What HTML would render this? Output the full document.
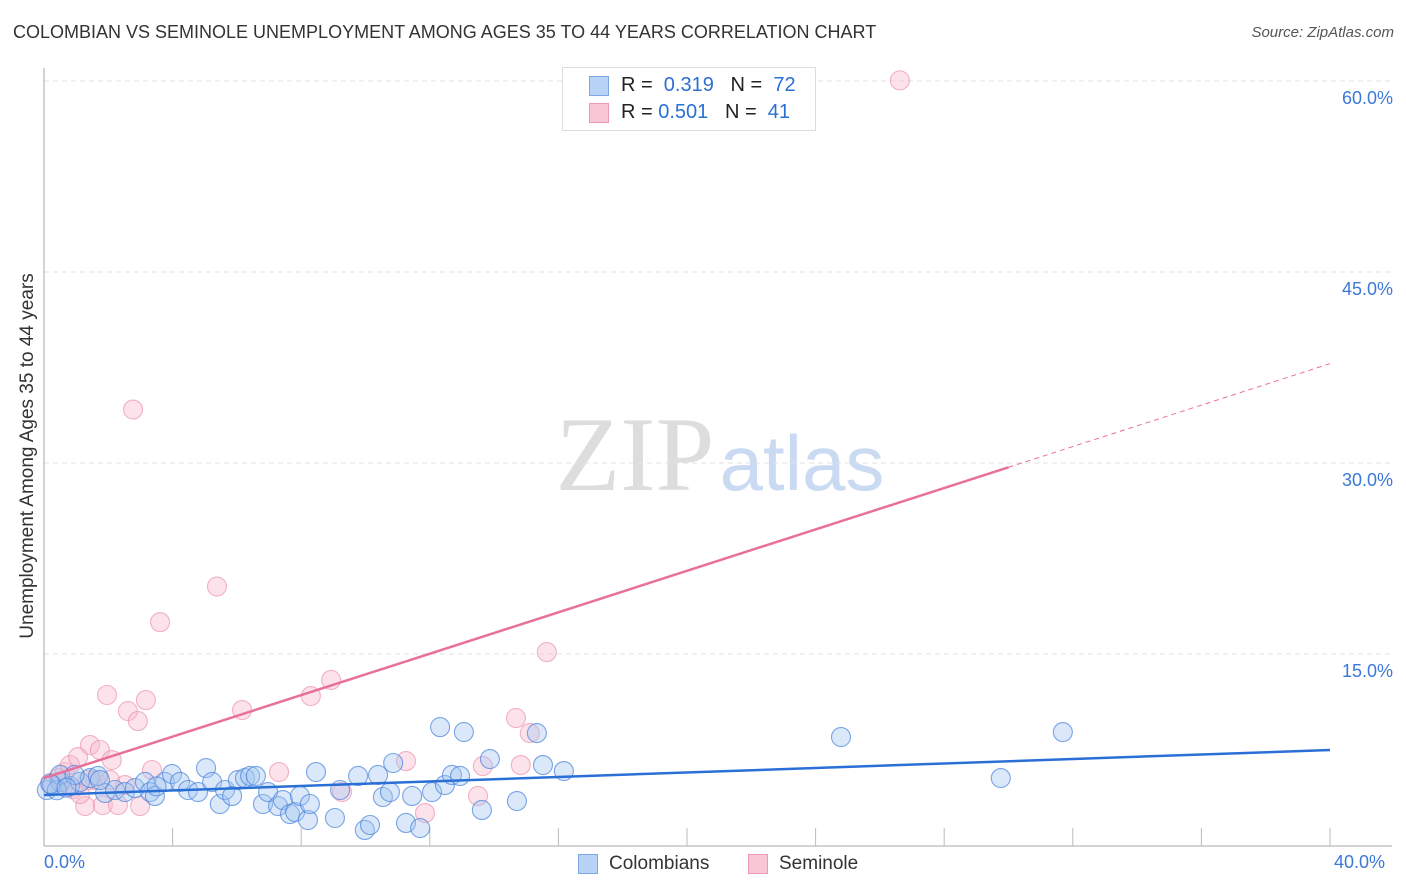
<!DOCTYPE html>
<html><head><meta charset="utf-8"><style>
body{margin:0;background:#fff;font-family:"Liberation Sans",sans-serif;}
#wrap{position:relative;width:1406px;height:892px;overflow:hidden;}
.t{position:absolute;white-space:nowrap;}
</style></head><body>
<div id="wrap">
<div class="t" style="left:13px;top:22px;font-size:18px;color:#333;">COLOMBIAN VS SEMINOLE UNEMPLOYMENT AMONG AGES 35 TO 44 YEARS CORRELATION CHART</div>
<div class="t" style="right:12px;top:24px;font-size:15px;color:#555;font-style:italic;">Source: ZipAtlas.com</div>
<svg id="svg" width="1406" height="892" style="position:absolute;left:0;top:0"></svg>
<div class="t" style="left:28px;top:456px;transform:translate(-50%,-50%) rotate(-90deg);transform-origin:center;font-size:19px;color:#333;">Unemployment Among Ages 35 to 44 years</div>
</div>
<script>
const NS="http://www.w3.org/2000/svg";
const blueX=[0.09,0.25,0.50,0.81,1.12,1.43,1.68,1.90,2.21,2.52,2.83,3.14,3.30,3.45,3.76,3.98,4.23,4.48,4.79,5.04,5.23,5.47,5.63,5.85,6.03,6.25,6.41,6.59,6.81,6.97,7.28,7.43,7.65,7.81,7.96,8.21,8.27,8.46,9.05,9.21,9.77,9.98,10.14,10.39,10.54,10.76,10.86,11.26,11.45,11.70,12.07,12.32,12.47,12.69,12.94,13.06,13.62,13.87,14.71,15.33,15.52,16.17,24.79,29.76,31.69,0.5,0.95,1.74,3.5,0.4,0.2,0.7];
const blueY=[4.32,4.71,4.95,4.63,4.95,5.26,5.42,4.08,4.32,4.16,4.47,4.95,4.16,3.85,4.95,5.57,4.95,4.32,4.16,6.04,4.95,3.22,4.32,3.85,5.10,5.26,5.42,5.42,3.22,4.16,3.06,3.53,2.43,2.59,3.85,1.96,3.22,5.73,2.12,4.32,5.42,1.18,1.57,5.50,3.77,4.16,6.44,1.73,3.85,1.33,4.16,9.26,4.71,5.50,5.42,8.87,2.75,6.75,3.45,8.79,6.28,5.81,8.48,5.26,8.87,5.5,5.5,5.1,4.6,4.3,4.8,4.5];
const pinkX=[0.19,0.44,0.65,0.81,1.06,1.28,1.43,1.59,1.74,1.83,1.96,2.11,2.30,2.52,2.61,2.92,2.77,2.99,3.17,3.36,3.61,5.38,6.16,7.31,8.30,8.93,9.27,11.26,11.85,13.50,13.65,14.68,14.83,15.11,15.64,26.62,0.9,1.37,0.56,1.12,2.05];
const pinkY=[4.87,5.26,5.73,6.28,6.91,3.06,7.85,5.10,7.46,3.14,11.78,6.67,3.14,4.71,10.52,9.73,34.2,3.06,11.38,5.89,17.5,20.3,10.6,5.73,11.7,12.96,4.16,6.59,2.51,3.85,6.20,9.97,6.28,8.79,15.15,60.05,4.4,5.1,4.9,4.0,5.1];
const blueTrend=[3.93,7.46];
const pinkTrend=[5.26,37.8];
const pinkSolidEnd=30.0;
const yTicks=[15,30,45,60];
const yTickLabels=["15.0%","30.0%","45.0%","60.0%"];
const xTickVals=[4,8,12,16,20,24,28,32,36,40];
const X=v=>44+v/40*1286;
const Y=v=>845-v/15*191;
const svg=document.getElementById('svg');
function mk(tag,attrs,parent){const e=document.createElementNS(NS,tag);for(const k in attrs)e.setAttribute(k,attrs[k]);(parent||svg).appendChild(e);return e;}
let wm=mk('text',{x:635,y:490,'font-size':106,'font-family':'Liberation Serif,serif',fill:'#ddd','text-anchor':'middle'});wm.textContent='ZIP';


let wm2=mk('text',{x:802,y:490,'font-size':78,'font-family':'Liberation Sans,sans-serif',fill:'#c9daf2','text-anchor':'middle'});wm2.textContent='atlas';


yTicks.forEach((v,i)=>{
 const g=mk('line',{x1:44,x2:1392,y1:Y(v),y2:Y(v),stroke:'#e2e2e2','stroke-dasharray':'5,4'});
 
 
 const t=mk('text',{x:1393,y:Y(v)+23,'font-size':18,fill:'#3b78d8','text-anchor':'end','font-family':'Liberation Sans,sans-serif'});t.textContent=yTickLabels[i];
 
 
});
const ax=mk('line',{x1:44,x2:44,y1:68,y2:846,stroke:'#aaa'});


const bx=mk('line',{x1:44,x2:1392,y1:846,y2:846,stroke:'#aaa'});


xTickVals.forEach(v=>{const l=mk('line',{x1:X(v),x2:X(v),y1:828,y2:846,stroke:'#bbb'});
 
 });
function pts(xs,ys,fill,stroke,name){xs.forEach((x,i)=>{const c=mk('circle',{cx:X(x),cy:Y(ys[i]),r:9.5,fill:fill,stroke:stroke,'stroke-width':1.1});
 
 });}
pts(pinkX,pinkY,'rgba(248,185,205,0.4)','rgba(235,140,170,0.65)','seminole-point');
pts(blueX,blueY,'rgba(165,198,240,0.4)','rgba(70,130,220,0.7)','colombian-point');
const bl=mk('line',{x1:X(0),y1:Y(blueTrend[0]),x2:X(40),y2:Y(blueTrend[1]),stroke:'#2a6fd6','stroke-width':2.5});


const pv=x=>pinkTrend[0]+(pinkTrend[1]-pinkTrend[0])*x/40;
const pl=mk('line',{x1:X(0),y1:Y(pv(0)),x2:X(pinkSolidEnd),y2:Y(pv(pinkSolidEnd)),stroke:'#e8709a','stroke-width':2.5});


const pd=mk('line',{x1:X(pinkSolidEnd),y1:Y(pv(pinkSolidEnd)),x2:X(40),y2:Y(pv(40)),stroke:'#e8709a','stroke-width':1,'stroke-dasharray':'5,4'});


</script>
<div class="t" style="left:44px;top:852px;font-size:18px;color:#3b78d8">0.0%</div>
<div class="t" style="left:1334px;top:852px;font-size:18px;color:#3b78d8">40.0%</div>
<div style="position:absolute;left:562px;top:67px;width:252px;height:62px;border:1px solid #ddd;background:#fff;font-size:20px">
 <div class="t" style="left:26px;top:8px;width:20px;height:20px;background:#b8d3f5;border:1px solid #7aa7e6;box-sizing:border-box"></div>
 <div class="t" style="left:58px;top:6px;color:#222">R = <span style="color:#2a6fd6">&nbsp;0.319</span>&nbsp;&nbsp;&nbsp;N = &nbsp;<span style="color:#2a6fd6">72</span></div>
 <div class="t" style="left:26px;top:35px;width:20px;height:20px;background:#f9c6d5;border:1px solid #ee9ab5;box-sizing:border-box"></div>
 <div class="t" style="left:58px;top:33px;color:#222">R = <span style="color:#2a6fd6">0.501</span>&nbsp;&nbsp;&nbsp;N = &nbsp;<span style="color:#2a6fd6">41</span></div>
</div>
<div class="t" style="left:578px;top:854px;width:20px;height:20px;background:#b8d3f5;border:1px solid #7aa7e6;box-sizing:border-box"></div>
<div class="t" style="left:609px;top:853px;font-size:19px;color:#333">Colombians</div>
<div class="t" style="left:748px;top:854px;width:20px;height:20px;background:#f9c6d5;border:1px solid #ee9ab5;box-sizing:border-box"></div>
<div class="t" style="left:779px;top:853px;font-size:19px;color:#333">Seminole</div>
</body></html>
